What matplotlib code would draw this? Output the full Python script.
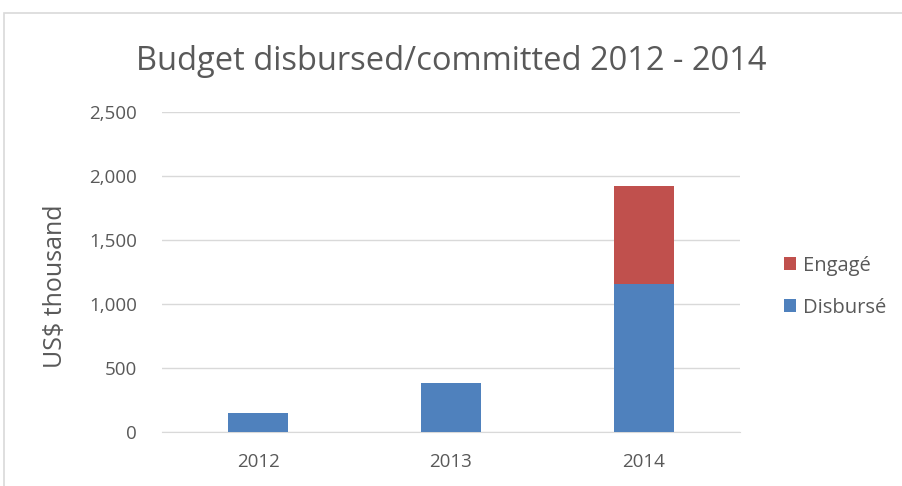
import matplotlib.pyplot as plt
from matplotlib.patches import Rectangle
from matplotlib.ticker import FuncFormatter

# values (US$ thousand)
years = ['2012', '2013', '2014']
disburse = [145, 385, 1155]
engage = [0, 0, 765]

plt.rcParams['font.family'] = ['Open Sans', 'DejaVu Sans']
grey = '#595959'

fig = plt.figure(figsize=(9.02, 4.86), dpi=100)
ax = fig.add_axes([0.1796, 0.1111, 0.6408, 0.6584])

# outer chart border like the spreadsheet frame
fig.patches.append(Rectangle((4 / 902, -0.1), 1.1, 1 - 13 / 486 + 0.1,
                             transform=fig.transFigure, fill=False,
                             edgecolor='#d9d9d9', linewidth=1.2))

x = range(len(years))
ax.bar(x, disburse, width=0.31, color='#4f81bd', label='Disbursé', zorder=3)
ax.bar(x, engage, width=0.31, bottom=disburse, color='#c0504d', label='Engagé', zorder=3)

ax.set_xlim(-0.5, 2.5)
ax.set_ylim(0, 2500)
ax.set_yticks(range(0, 2501, 500))
ax.yaxis.set_major_formatter(FuncFormatter(lambda v, p: f'{int(v):,}'))
ax.set_xticks(list(x))
ax.set_xticklabels(years)
ax.grid(axis='y', color='#d9d9d9', linewidth=1, zorder=0)
for s in ax.spines.values():
    s.set_visible(False)
ax.spines['bottom'].set_visible(True)
ax.spines['bottom'].set_color('#d9d9d9')
ax.tick_params(length=0, labelsize=13.5, colors=grey)
ax.tick_params(axis='y', pad=18)
ax.tick_params(axis='x', pad=15)

ax.set_ylabel('US$ thousand', fontsize=18, color=grey)
ax.yaxis.set_label_coords(-0.163, 0.455)
fig.text(0.5, 1 - 70 / 486, 'Budget disbursed/committed 2012 - 2014', ha='center', va='baseline',
         fontsize=23.5, color=grey)

handles, labels = ax.get_legend_handles_labels()
fig.legend(handles[::-1], labels[::-1], loc='center left', bbox_to_anchor=(0.858, 0.41),
           frameon=False, fontsize=14.5, labelcolor=grey, handlelength=0.6, handleheight=0.6,
           handletextpad=0.35, labelspacing=1.1, borderpad=0)

fig.savefig('out.png', dpi=100)
